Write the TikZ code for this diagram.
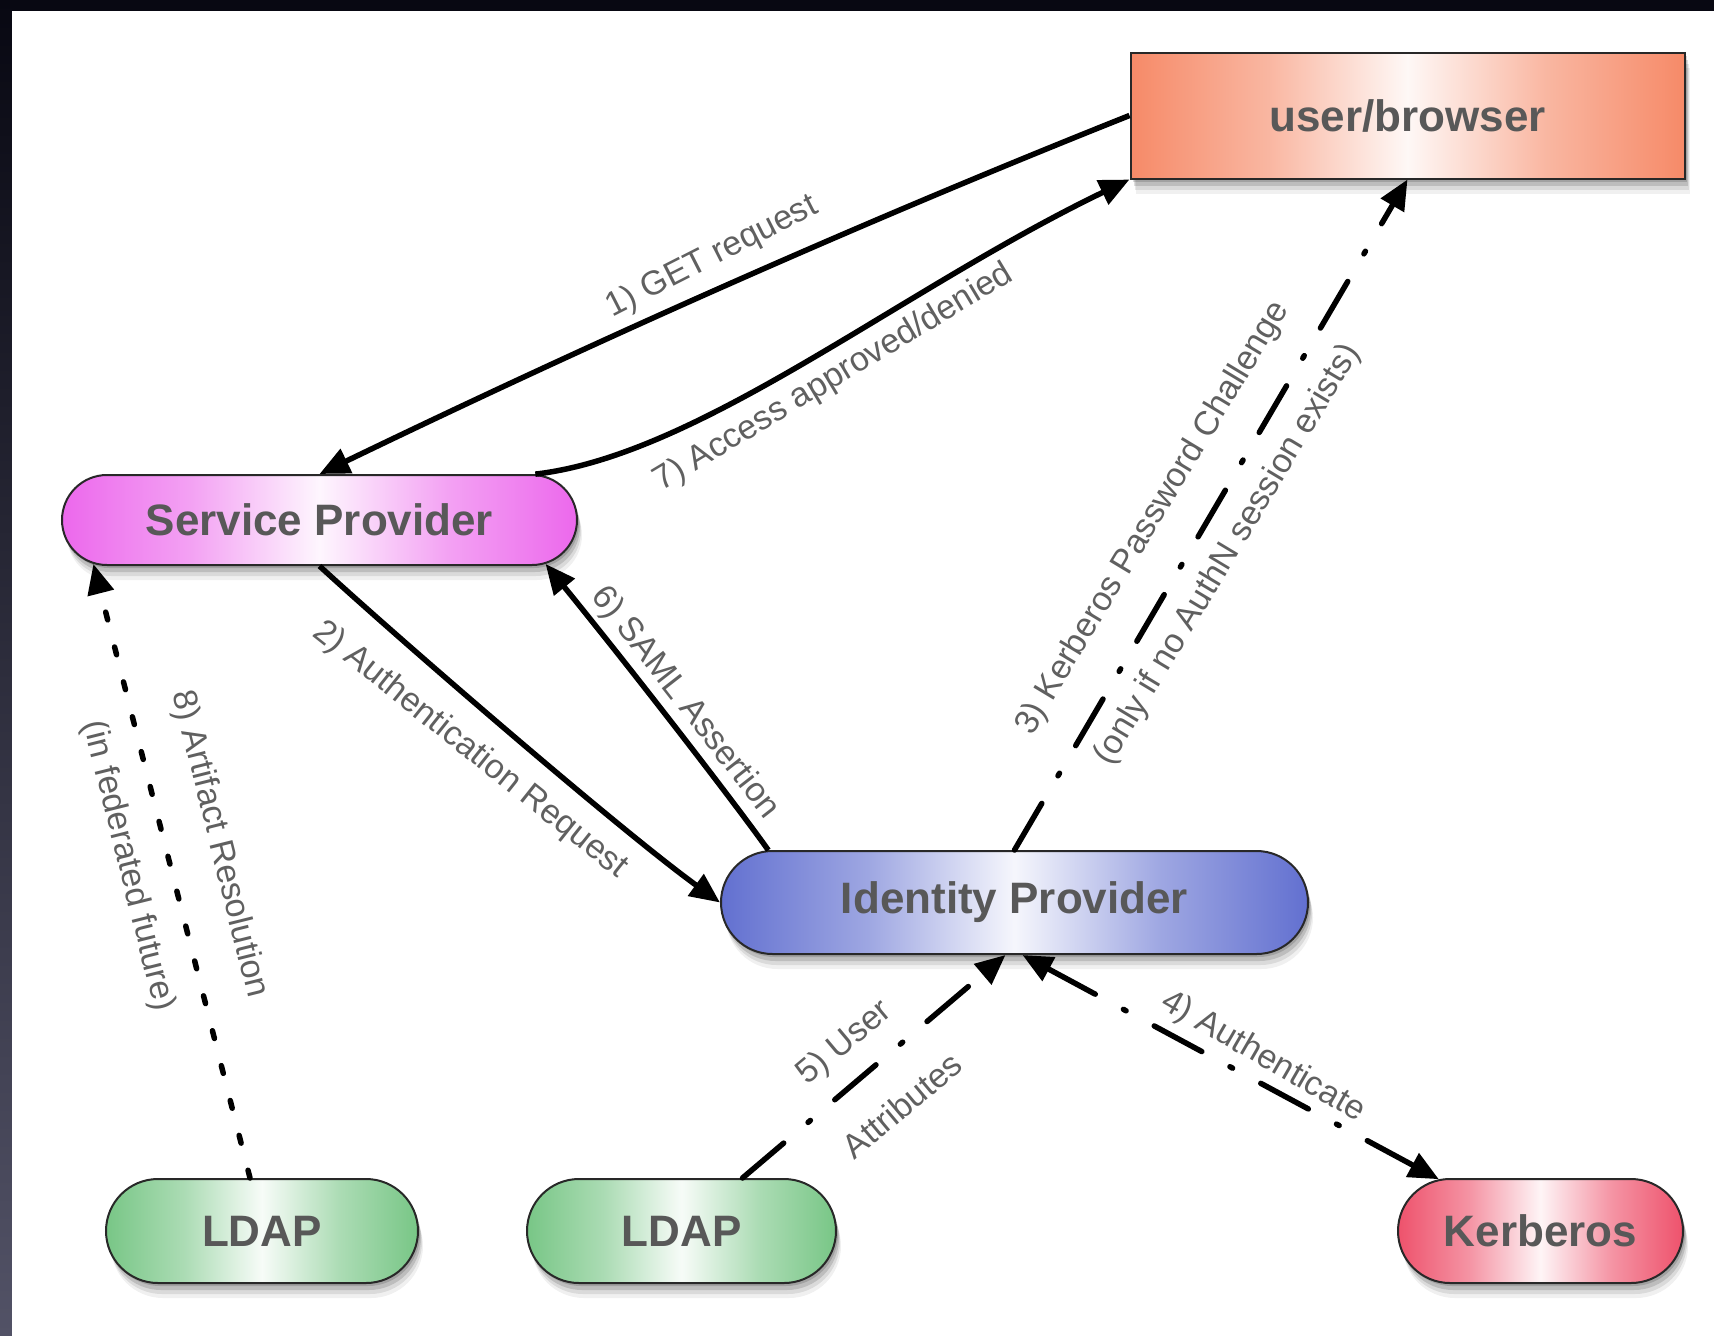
\documentclass[tikz,border=0pt]{standalone}
\usepackage{fontspec}
\setmainfont{Liberation Sans}
\usetikzlibrary{arrows.meta,shapes.misc,shadows}

\definecolor{ubfill}{RGB}{246,138,104}
\definecolor{spfill}{RGB}{236,104,236}
\definecolor{idpfill}{RGB}{98,112,208}
\definecolor{ldapfill}{RGB}{120,198,134}
\definecolor{kerbfill}{RGB}{238,82,108}
\definecolor{nodetext}{RGB}{88,88,88}
\definecolor{labeltext}{RGB}{96,96,96}
\definecolor{nodeline}{RGB}{40,40,40}
\definecolor{framedark}{RGB}{8,8,18}
\definecolor{frameslate}{RGB}{82,82,102}

\colorlet{ubmid}{ubfill!62!white}\colorlet{ublight}{ubfill!6!white}
\colorlet{spmid}{spfill!62!white}\colorlet{splight}{spfill!6!white}
\colorlet{idpmid}{idpfill!62!white}\colorlet{idplight}{idpfill!6!white}
\colorlet{ldapmid}{ldapfill!62!white}\colorlet{ldaplight}{ldapfill!6!white}
\colorlet{kerbmid}{kerbfill!62!white}\colorlet{kerblight}{kerbfill!6!white}

\pgfdeclarehorizontalshading{ubshade}{100bp}{color(0bp)=(ubfill); color(25bp)=(ubfill); color(37.5bp)=(ubmid); color(50bp)=(ublight); color(62.5bp)=(ubmid); color(75bp)=(ubfill); color(100bp)=(ubfill)}
\pgfdeclarehorizontalshading{spshade}{100bp}{color(0bp)=(spfill); color(25bp)=(spfill); color(37.5bp)=(spmid); color(50bp)=(splight); color(62.5bp)=(spmid); color(75bp)=(spfill); color(100bp)=(spfill)}
\pgfdeclarehorizontalshading{idpshade}{100bp}{color(0bp)=(idpfill); color(25bp)=(idpfill); color(37.5bp)=(idpmid); color(50bp)=(idplight); color(62.5bp)=(idpmid); color(75bp)=(idpfill); color(100bp)=(idpfill)}
\pgfdeclarehorizontalshading{ldapshade}{100bp}{color(0bp)=(ldapfill); color(25bp)=(ldapfill); color(37.5bp)=(ldapmid); color(50bp)=(ldaplight); color(62.5bp)=(ldapmid); color(75bp)=(ldapfill); color(100bp)=(ldapfill)}
\pgfdeclarehorizontalshading{kerbshade}{100bp}{color(0bp)=(kerbfill); color(25bp)=(kerbfill); color(37.5bp)=(kerbmid); color(50bp)=(kerblight); color(62.5bp)=(kerbmid); color(75bp)=(kerbfill); color(100bp)=(kerbfill)}

\begin{document}
\begin{tikzpicture}[x=1pt,y=-1pt,
  shadowed/.style={
    general shadow={fill=black,opacity=0.14,shadow xshift=2pt,shadow yshift=-3pt},
    general shadow={fill=black,opacity=0.13,shadow xshift=3pt,shadow yshift=-7pt},
    general shadow={fill=black,opacity=0.09,shadow xshift=4pt,shadow yshift=-11pt},
    general shadow={fill=black,opacity=0.06,shadow xshift=5pt,shadow yshift=-15pt}},
  nodefont/.style={font=\fontsize{44}{50}\selectfont\bfseries, text=nodetext},
  pill/.style={rounded rectangle, draw=nodeline, line width=2pt, inner sep=0pt, nodefont, shadowed, shade},
  boxnode/.style={rectangle, draw=nodeline, line width=2pt, inner sep=0pt, nodefont, shadowed, shade},
  elabel/.style={font=\fontsize{34}{40}\selectfont, text=labeltext, inner sep=0pt},
  tip/.style={-{Triangle[length=30pt,width=26pt]}},
  solidarrow/.style={line width=5.5pt, tip},
  dashdot/.style={line width=5.5pt, line cap=round, dash pattern=on 54pt off 32pt on 3pt off 32pt},
  dotline/.style={line width=5.5pt, line cap=round, dash pattern=on 8pt off 28pt}
]
\useasboundingbox (0,0) rectangle (1714,1336);

% frame
\fill[framedark] (0,0) rectangle (1714,11);
\shade[top color=framedark, bottom color=frameslate] (0,0) rectangle (12,1336);
\fill[white] (12,11) rectangle (1714,1336);

% nodes
\node[boxnode, shading=ubshade, minimum width=554pt, minimum height=126pt] (ub) at (1407.5,115.5) {user/browser};
\node[pill, shading=spshade, minimum width=515pt, minimum height=90pt] (sp) at (319.5,520) {Service Provider};
\node[pill, shading=idpshade, minimum width=587pt, minimum height=103pt] (idp) at (1014.5,902.5) {Identity Provider};
\node[pill, shading=ldapshade, minimum width=312pt, minimum height=104pt] (ldapA) at (262,1231) {LDAP};
\node[pill, shading=ldapshade, minimum width=309pt, minimum height=104pt] (ldapB) at (681.5,1231) {LDAP};
\node[pill, shading=kerbshade, minimum width=285pt, minimum height=104pt] (kerb) at (1540.5,1231) {Kerberos};

% connectors
\draw[solidarrow] (ub.west) .. controls (862,222) and (595,341) .. (sp.north);
\draw[solidarrow] (sp.12) .. controls (700,455) and (900,290) .. (ub.south west);
\draw[solidarrow] (sp.south) .. controls (400,640) and (620,830) .. (idp.west);
\draw[solidarrow] (idp.168) .. controls (740,810) and (640,680) .. (sp.-11.5);
\draw[dashdot, tip] (idp.north) -- (ub.south);
\draw[dashdot, {Triangle[length=30pt,width=26pt]}-{Triangle[length=30pt,width=26pt]}] ([xshift=8pt]idp.south) -- (kerb.153);
\draw[dashdot, tip] ([xshift=61pt]ldapB.north) -- ([xshift=-9pt]idp.south);
\draw[dotline, tip] ([xshift=-12pt]ldapA.north) -- (sp.191);

% labels
\node[elabel, rotate=27] (l1) at (712,257) {1) GET request};
\node[elabel, rotate=31] (l7) at (834,378) {7) Access approved/denied};
\node[elabel, rotate=-38.5] (l2) at (470,750) {2) Authentication Request};
\node[elabel, rotate=-52] (l6) at (685,703) {6) SAML Assertion};
\node[elabel, rotate=59] (l3a) at (1153,518) {3) Kerberos Password Challenge};
\node[elabel, rotate=59] (l3b) at (1228,555) {(only if no AuthN session exists)};
\node[elabel, rotate=-30] (l4) at (1263,1057) {4) Authenticate};
\node[elabel, rotate=40] (l5a) at (845,1043) {5) User};
\node[elabel, rotate=40] (l5b) at (902,1105) {Attributes};
\node[elabel, rotate=-76] (l8a) at (219,844) {8) Artifact Resolution};
\node[elabel, rotate=-76] (l8b) at (128,866) {(in federated future)};
\end{tikzpicture}
\end{document}
